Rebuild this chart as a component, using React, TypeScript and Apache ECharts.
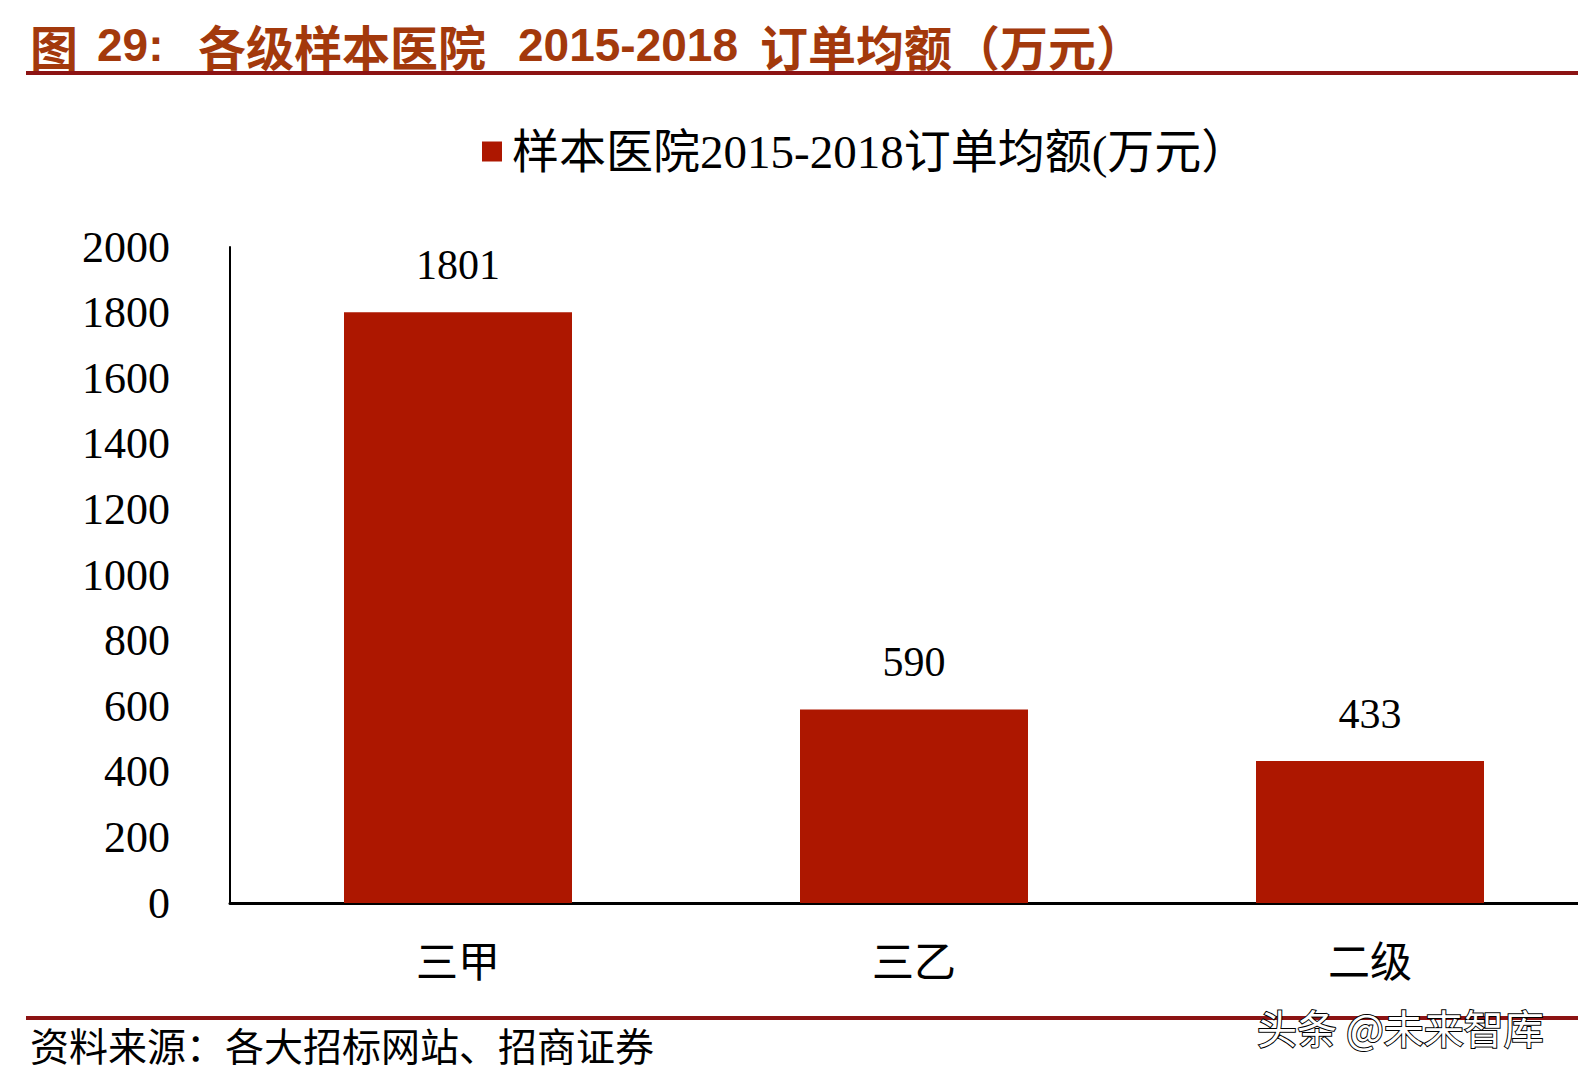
import React, { useEffect, useRef } from 'react';
import * as echarts from 'echarts';

const categories = ['三甲', '三乙', '二级'];
const orderAvg = [1801, 590, 433];
const seriesName = '样本医院2015-2018订单均额(万元）';

const titleParts = [
  { text: '图', x: 30, font: 'cjk' },
  { text: '29:', x: 97, font: 'latin' },
  { text: '各级样本医院', x: 198, font: 'cjk' },
  { text: '2015-2018', x: 518, font: 'latin' },
  { text: '订单均额（万元）', x: 760, font: 'cjk' },
];
const sourceText = '资料来源：各大招标网站、招商证券';
const watermark = '头条 @未来智库';

const SERIF = '"Liberation Serif", "Times New Roman", "Noto Sans CJK SC", serif';
const TITLE_COLOR = '#a3390c';
const RULE_COLOR = '#8c1313';
const BAR_COLOR = '#ad1700';

const App: React.FC = () => {
  const chartRef = useRef<HTMLDivElement>(null);

  useEffect(() => {
    if (!chartRef.current) return;
    const chart = echarts.init(chartRef.current, undefined, { renderer: 'svg' });

    const titleEls = titleParts.map(p => ({
      type: 'text',
      x: p.x,
      y: 45,
      style: {
        text: p.text,
        fill: TITLE_COLOR,
        fontSize: p.font === 'cjk' ? 48 : 46,
        fontWeight: 'bold',
        fontFamily: p.font === 'cjk' ? '"Noto Sans CJK SC", sans-serif' : '"Liberation Sans", Arial, sans-serif',
        textVerticalAlign: 'middle',
      },
    }));

    chart.setOption({
      animation: false,
      backgroundColor: '#ffffff',
      legend: {
        data: [seriesName],
        left: 477,
        top: 123,
        icon: 'rect',
        itemWidth: 20,
        itemHeight: 20,
        textStyle: {
          fontSize: 47,
          color: '#000',
          fontFamily: SERIF,
          padding: [0, 0, 0, 5],
        },
      },
      // the plot runs past the right edge of the page in the original
      grid: { left: 230, right: 0, top: 247, bottom: 177, containLabel: false },
      xAxis: {
        type: 'category',
        data: categories,
        axisLine: { show: true, lineStyle: { color: '#000', width: 3 } },
        axisTick: { show: false },
        axisLabel: { margin: 39, fontSize: 42, color: '#000', fontFamily: SERIF },
      },
      yAxis: {
        type: 'value',
        min: 0,
        max: 2000,
        interval: 200,
        axisLine: { show: true, lineStyle: { color: '#000', width: 2 } },
        axisTick: { show: false },
        splitLine: { show: false },
        axisLabel: {
          margin: 60,
          fontSize: 44,
          color: '#000',
          fontFamily: SERIF,
          formatter: (v: number) => String(v),
        },
      },
      series: [
        {
          name: seriesName,
          type: 'bar',
          data: orderAvg,
          barWidth: '50%',
          itemStyle: { color: BAR_COLOR },
          label: {
            show: true,
            position: 'top',
            distance: 26,
            fontSize: 42,
            color: '#000',
            fontFamily: SERIF,
          },
        },
      ],
      graphic: [
        ...titleEls,
        {
          type: 'rect',
          shape: { x: 26, y: 71, width: 1552, height: 4 },
          style: { fill: RULE_COLOR },
        },
        {
          type: 'rect',
          shape: { x: 26, y: 1016, width: 1552, height: 4 },
          style: { fill: RULE_COLOR },
        },
        {
          type: 'text',
          x: 30,
          y: 1044,
          style: {
            text: sourceText,
            fill: '#000',
            fontSize: 39,
            fontFamily: '"Noto Sans CJK SC", sans-serif',
            textVerticalAlign: 'middle',
          },
        },
        {
          type: 'text',
          x: 1257,
          y: 1027,
          z: 10,
          style: {
            text: watermark,
            fill: '#ffffff',
            stroke: '#000000',
            lineWidth: 2,
            fontSize: 40,
            fontFamily: '"Noto Sans CJK SC", sans-serif',
            textVerticalAlign: 'middle',
          },
        },
      ],
    });

    return () => {
      chart.dispose();
    };
  }, []);

  return (
    <div
      style={{
        position: 'absolute',
        left: 0,
        top: 0,
        width: '1578px',
        height: '1080px',
        overflow: 'hidden',
      }}
    >
      <div ref={chartRef} style={{ width: '1598px', height: '1080px' }} />
    </div>
  );
};

export default App;
